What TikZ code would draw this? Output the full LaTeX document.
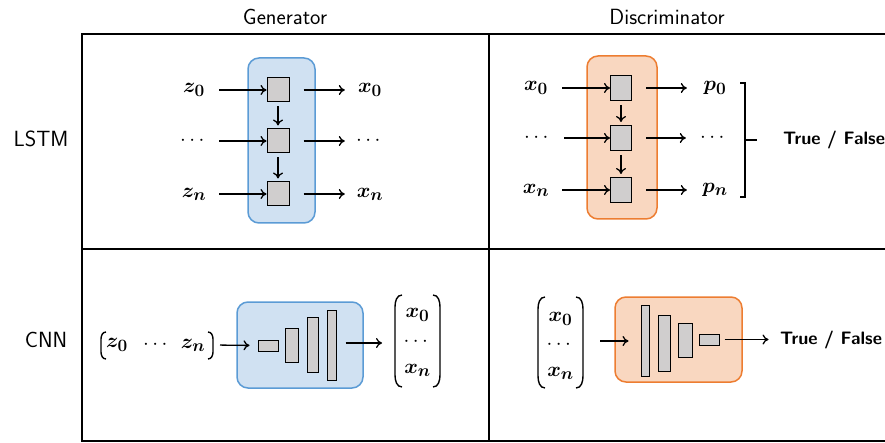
\documentclass[tikz,border=0pt]{standalone}
\usepackage{amsmath,bm}
\usetikzlibrary{arrows.meta}
\DeclareMathSizes{22}{22}{17}{13}
\definecolor{gfill}{HTML}{D0E1F2}
\definecolor{gdraw}{HTML}{5B9BD5}
\definecolor{dfill}{HTML}{F9D7C0}
\definecolor{ddraw}{HTML}{ED7D31}
\definecolor{cellgray}{HTML}{D0CECE}
\begin{document}
\begin{tikzpicture}[x=1pt,y=-1pt,
  frameline/.style={line width=2pt},
  genbox/.style={draw=gdraw, fill=gfill, line width=1.5pt, rounded corners=11pt},
  disbox/.style={draw=ddraw, fill=dfill, line width=1.5pt, rounded corners=11pt},
  cell/.style={draw, fill=cellgray, line width=1pt, inner sep=0pt},
  arr/.style={-{To[length=6pt,width=10pt]}, line width=1.3pt},
  lab/.style={font=\fontsize{22}{26}\selectfont, inner sep=0pt, minimum width=36pt},
  item/.style={font=\fontsize{22}{26}\selectfont, inner sep=0pt},
  head/.style={font=\fontsize{22}{26}\selectfont\sffamily},
  tf/.style={font=\fontsize{18}{22}\selectfont\sffamily\bfseries},
  paren/.style={line width=1.4pt}]
\useasboundingbox (0,0) rectangle (885,443);
% frame
\coordinate (tl) at (82,34); \coordinate (tr) at (885,34);
\coordinate (bl) at (82,441); \coordinate (br) at (885,441);
\coordinate (tm) at (489,34); \coordinate (bm) at (489,441);
\coordinate (ml) at (82,249); \coordinate (mr) at (885,249);
\draw[frameline] (tr) -- (tl) -- (bl) -- (br);
\draw[frameline] (tm) -- (bm);
\draw[frameline] (ml) -- (mr);
% headers
\node[head] (hg) at (285,17) {Generator};
\node[head] (hd) at (667,17) {Discriminator};
\node[head] (hl) at (41,139) {LSTM};
\node[head] (hc) at (46,340) {CNN};

% ---- LSTM generator
\node[genbox, minimum width=67pt, minimum height=165pt] (gbox) at (281.5,140.5) {};
\node[cell, minimum width=22pt, minimum height=24pt] (g1) at (278,90) {};
\node[cell, minimum width=22pt, minimum height=24pt] (g2) at (278,141) {};
\node[cell, minimum width=22pt, minimum height=24pt] (g3) at (278,194) {};
\node[lab] (gz0) at (194,90) {$\bm{z}_{\bm{0}}$};
\node[lab] (gzd) at (194,141) {$\cdots$};
\node[lab] (gzn) at (194,194) {$\bm{z}_{\bm{n}}$};
\node[lab] (gx0) at (370,90) {$\bm{x}_{\bm{0}}$};
\node[lab] (gxd) at (370,141) {$\cdots$};
\node[lab] (gxn) at (370,194) {$\bm{x}_{\bm{n}}$};
\foreach \a/\c/\b in {gz0/g1/gx0, gzd/g2/gxd, gzn/g3/gxn}{
  \draw[arr, shorten <=7pt] (\a.east |- \c.west) -- (\c.west);
  \draw[arr, shorten <=14pt, shorten >=7pt] (\c.east) -- (\b.west |- \c.east);
}
\draw[arr, shorten <=4pt, shorten >=3pt] (g1) -- (g2);
\draw[arr, shorten <=4pt, shorten >=3pt] (g2) -- (g3);

% ---- LSTM discriminator
\node[disbox, minimum width=70pt, minimum height=163pt] (dbox) at (622,137.5) {};
\node[cell, minimum width=21pt, minimum height=25pt] (d1) at (621,88) {};
\node[cell, minimum width=21pt, minimum height=25pt] (d2) at (621,138) {};
\node[cell, minimum width=21pt, minimum height=25pt] (d3) at (621,190) {};
\node[lab] (dx0) at (536,88) {$\bm{x}_{\bm{0}}$};
\node[lab] (dxd) at (538,138) {$\cdots$};
\node[lab] (dxn) at (536,190) {$\bm{x}_{\bm{n}}$};
\node[lab] (dp0) at (715,88) {$\bm{p}_{\bm{0}}$};
\node[lab] (dpd) at (714,138) {$\cdots$};
\node[lab] (dpn) at (715,190) {$\bm{p}_{\bm{n}}$};
\foreach \a/\c/\b in {dx0/d1/dp0, dxd/d2/dpd, dxn/d3/dpn}{
  \draw[arr, shorten <=8pt] (\a.east |- \c.west) -- (\c.west);
  \draw[arr, shorten <=14pt, shorten >=10pt] (\c.east) -- (\b.west |- \c.east);
}
\draw[arr, shorten <=4pt, shorten >=3pt] (d1) -- (d2);
\draw[arr, shorten <=4pt, shorten >=3pt] (d2) -- (d3);
\coordinate (bt) at (740,83); \coordinate (bb) at (740,197);
\coordinate (bmid) at (745,140);
\node[tf] (tf1) at (834,140) {True / False};
\draw[line width=1.3pt] (bt) -- ++(5,0) |- (bb);
\draw[line width=1.3pt] (bmid) -- ++(12,0);

% ---- CNN generator
\node[item] (cz0) at (117,345) {$\bm{z}_{\bm{0}}$};
\node[item] (czd) at (157,345) {$\cdots$};
\node[item] (czn) at (193,345) {$\bm{z}_{\bm{n}}$};
\coordinate (zl) at (101,332); \coordinate (zr) at (213,332);
\draw[paren] (zl) ++(5,0) to[out=180,in=90] ++(-5,7) -- ++(0,13) to[out=-90,in=180] ++(5,7);
\draw[paren] (zr) ++(-5,0) to[out=0,in=90] ++(5,7) -- ++(0,13) to[out=-90,in=0] ++(-5,7);
\node[genbox, minimum width=126pt, minimum height=86pt] (cgbox) at (300,345) {};
\node[cell, minimum width=20pt, minimum height=11pt] (r1) at (268,345.5) {};
\node[cell, minimum width=13pt, minimum height=34pt] (r2) at (291.5,345) {};
\node[cell, minimum width=11pt, minimum height=55pt] (r3) at (312.5,344.5) {};
\node[cell, minimum width=9pt, minimum height=70pt] (r4) at (331.5,345) {};
\node[item] (gcx0) at (417.5,315) {$\bm{x}_{\bm{0}}$};
\node[item] (gcxd) at (417.5,342) {$\cdots$};
\node[item] (gcxn) at (417.5,370) {$\bm{x}_{\bm{n}}$};
\coordinate (gcl) at (395,295); \coordinate (gcr) at (440,295);
\coordinate (gcin) at (395,343);
\draw[paren] (gcl) ++(7,0) to[out=180,in=90] ++(-7,12) -- ++(0,68) to[out=-90,in=180] ++(7,12);
\draw[paren] (gcr) ++(-7,0) to[out=0,in=90] ++(7,12) -- ++(0,68) to[out=-90,in=0] ++(-7,12);
\draw[arr, shorten <=7pt, shorten >=8pt] (czn.east -| zr) -- (r1.west);
\draw[arr, shorten <=9pt, shorten >=13pt] (r4.east |- gcin) -- (gcin);

% ---- CNN discriminator
\node[item] (dcx0) at (560.5,319) {$\bm{x}_{\bm{0}}$};
\node[item] (dcxd) at (560.5,345) {$\cdots$};
\node[item] (dcxn) at (560.5,373) {$\bm{x}_{\bm{n}}$};
\coordinate (dcl) at (538,297); \coordinate (dcr) at (583,297);
\coordinate (dcout) at (583,341);
\draw[paren] (dcl) ++(7,0) to[out=180,in=90] ++(-7,12) -- ++(0,67) to[out=-90,in=180] ++(7,12);
\draw[paren] (dcr) ++(-7,0) to[out=0,in=90] ++(7,12) -- ++(0,67) to[out=-90,in=0] ++(-7,12);
\node[disbox, minimum width=127pt, minimum height=85pt] (cdbox) at (678.5,339.5) {};
\node[cell, minimum width=8pt, minimum height=71pt] (q1) at (645,340.5) {};
\node[cell, minimum width=12pt, minimum height=56pt] (q2) at (664,343) {};
\node[cell, minimum width=14pt, minimum height=34pt] (q3) at (685,340) {};
\node[cell, minimum width=20pt, minimum height=11pt] (q4) at (709,339.5) {};
\node[tf] (tf2) at (831,340) {True / False};
\draw[arr, shorten <=17pt, shorten >=12pt] (dcout) -- (q1.west |- dcout);
\draw[arr, shorten <=5pt, shorten >=8pt] (q4.east) -- (tf2.west |- q4.east);
\end{tikzpicture}
\end{document}
